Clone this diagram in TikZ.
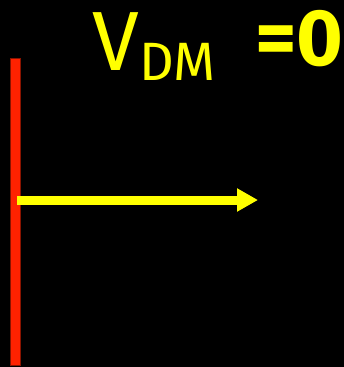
\documentclass[tikz,border=0pt]{standalone}
\usepackage{fontspec}
\setmainfont{Fira Sans}
\usepackage{xcolor}
\usepackage{tikz}
\usetikzlibrary{arrows.meta,positioning}
\definecolor{plate}{HTML}{000000}
\definecolor{wall}{HTML}{FF2200}
\definecolor{walledge}{HTML}{8A1400}
\definecolor{flow}{HTML}{FFFF00}

\begin{document}
\begin{tikzpicture}[
  x=1pt, y=-1pt,
  label/.style={text=flow,inner sep=0pt,anchor=base west},
  wallbar/.style={draw=walledge,fill=wall,line width=0.8pt,minimum width=10pt,minimum height=307pt,inner sep=0pt},
  vec/.style={-{Triangle[length=21pt,width=22pt]},draw=flow,line width=9pt},
]
\fill[plate] (0,0) rectangle (344,367);
\useasboundingbox (0,0) rectangle (344,367);

\node[wallbar, anchor=north west] (wall) at (10,58) {};

\node[label, font=\fontsize{84}{84}\selectfont] (vsym) at (92,70) {V};
\node[label, font=\fontsize{54}{54}\selectfont] (dm) at (139,80) {DM};
\node[label, font=\bfseries\fontsize{80}{80}\selectfont] (zero) at (255,65) {=0};

\coordinate (start) at (17,200);
\coordinate (tip) at (258,200);
\draw[vec] (start) -- (tip);
\end{tikzpicture}
\end{document}
